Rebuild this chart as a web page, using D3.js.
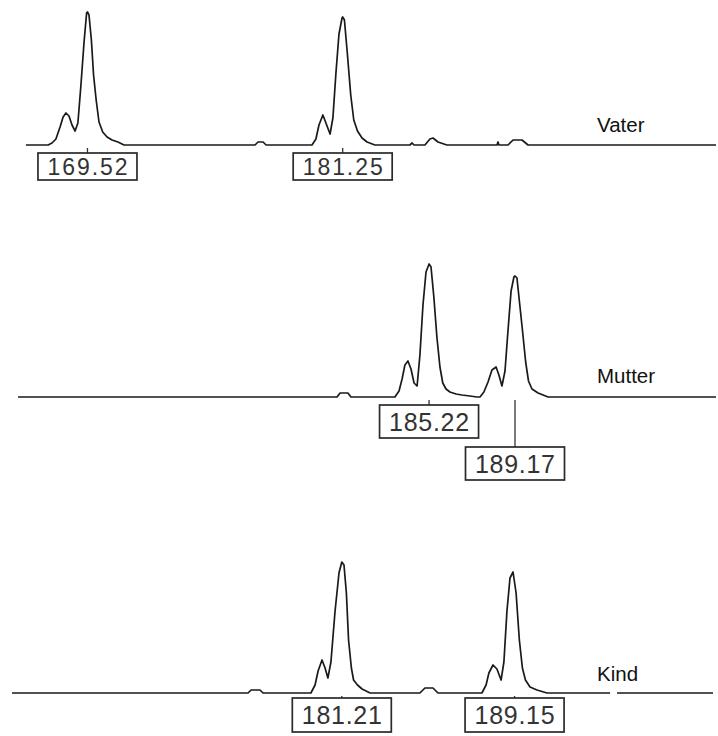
<!DOCTYPE html>
<html><head><meta charset="utf-8">
<script src="https://cdn.jsdelivr.net/npm/d3@7/dist/d3.min.js"></script>
<style>html,body{margin:0;padding:0;background:#fff;}svg{display:block;}</style>
</head><body>
<svg id="chart" width="718" height="736"></svg>
<script>
// ---- data (fragment size in bp, signal in RFU) ----
const traceNames = ["Vater", "Mutter", "Kind"];

const vaterSignal = [
  [166.69,0],[167.71,0],[167.89,20],[168.07,60],[168.26,180],[168.40,280],[168.53,320],[168.67,290],
  [168.81,200],[168.95,140],[169.08,220],[169.22,600],[169.36,1020],[169.48,1320],[169.52,1330],[169.59,1300],
  [169.70,1050],[169.80,700],[169.92,450],[170.05,230],[170.22,130],[170.42,80],[170.65,50],[170.92,30],
  [171.20,0],[177.22,0],[177.36,30],[177.59,30],[177.73,0],
  [179.84,0],[180.02,60],[180.16,200],[180.34,300],[180.48,220],[180.67,110],[180.80,270],[180.94,720],
  [181.08,1110],[181.22,1270],[181.25,1280],[181.33,1250],[181.47,900],[181.62,500],[181.76,250],[181.93,140],
  [182.14,70],[182.37,30],[182.73,0],[184.34,0],[184.44,20],[184.53,0],
  [185.03,0],[185.26,60],[185.40,70],[185.63,30],[186.04,0],
  [188.34,0],[188.39,30],[188.43,0],[188.85,0],[189.08,50],[189.49,50],[189.77,0],[198.41,0]
];

const mutterSignal = [
  [166.33,0],[180.99,0],[181.13,40],[181.49,40],[181.63,0],
  [183.65,0],[183.84,60],[183.98,180],[184.11,320],[184.25,360],[184.39,280],[184.53,140],[184.67,110],
  [184.80,420],[184.94,920],[185.08,1250],[185.22,1330],[185.31,1300],[185.44,1000],[185.58,600],[185.72,300],
  [185.85,140],[186.00,80],[186.18,50],[186.46,30],[186.73,20],[187.10,10],[187.42,0],
  [187.56,0],[187.74,50],[187.93,150],[188.11,270],[188.30,300],[188.43,220],[188.57,110],[188.71,260],
  [188.85,670],[188.99,1060],[189.12,1200],[189.17,1210],[189.26,1190],[189.40,900],[189.53,630],[189.66,350],
  [189.79,160],[189.95,80],[190.23,40],[190.46,20],[190.69,0],[198.41,0]
];

const kindSignal = [
  [166.05,0],[176.90,0],[177.04,30],[177.45,30],[177.59,0],
  [179.79,0],[179.98,80],[180.12,220],[180.30,330],[180.44,250],[180.57,150],[180.71,310],[180.90,820],
  [181.08,1200],[181.21,1310],[181.31,1280],[181.42,1000],[181.52,530],[181.65,250],[181.75,130],[181.93,80],
  [182.14,40],[182.51,0],[184.80,0],[185.03,50],[185.40,50],[185.63,0],
  [187.65,0],[187.84,80],[187.97,200],[188.16,280],[188.34,240],[188.53,130],[188.66,310],[188.80,820],
  [188.94,1150],[189.08,1210],[189.22,1000],[189.37,530],[189.51,250],[189.65,130],[189.86,60],[190.18,30],
  [190.64,0],[193.54,0],[193.60,null],[193.86,0],[198.27,0]
];

const vaterPeaks = [169.52, 181.25];
const mutterPeaks = [185.22, 189.17];
const kindPeaks = [181.21, 189.15];

// ---- layout ----
const svg = d3.select("#chart");
const W = 718;
const x = d3.scaleLinear().domain([165.5, 198.5]).range([0, W]);

const panels = [
  {name: traceNames[0], signal: vaterSignal, peaks: vaterPeaks, base: 145, labelRows: [0, 0], boxTop: 153, boxH: 27, font: 23},
  {name: traceNames[1], signal: mutterSignal, peaks: mutterPeaks, base: 397, labelRows: [0, 1], boxTop: 405, boxH: 33, font: 25},
  {name: traceNames[2], signal: kindSignal, peaks: kindPeaks, base: 693, labelRows: [0, 0], boxTop: 698, boxH: 34, font: 25}
];
const nameBaselines = [132, 383, 681];

panels.forEach((p, i) => {
  const y = d3.scaleLinear().domain([0, 1400]).range([p.base, p.base - 140]);
  const g = svg.append("g");

  const line = d3.line()
    .defined(d => d[1] !== null)
    .x(d => x(d[0]))
    .y(d => y(d[1]));

  g.append("path")
    .datum(p.signal)
    .attr("d", line)
    .attr("fill", "none")
    .attr("stroke", "#1a1a1a")
    .attr("stroke-width", 1.7)
    .attr("stroke-linejoin", "round");

  g.append("text")
    .attr("x", 597)
    .attr("y", nameBaselines[i])
    .attr("font-family", "Liberation Sans, Arial, sans-serif")
    .attr("font-size", 20.5)
    .attr("fill", "#111")
    .text(p.name);

  p.peaks.forEach((pk, j) => {
    const cx = x(pk);
    const top = p.boxTop + p.labelRows[j] * 42;
    const bw = 99;
    g.append("line")
      .attr("x1", cx).attr("x2", cx)
      .attr("y1", p.base + 3).attr("y2", top)
      .attr("stroke", "#333").attr("stroke-width", 1.3);
    g.append("rect")
      .attr("x", cx - bw / 2).attr("y", top)
      .attr("width", bw).attr("height", p.boxH)
      .attr("fill", "#fff")
      .attr("stroke", "#2a2a2a").attr("stroke-width", 1.7);
    g.append("text")
      .attr("x", cx).attr("y", top + p.boxH / 2)
      .attr("dy", "0.36em")
      .attr("text-anchor", "middle")
      .attr("font-family", "Liberation Sans, Arial, sans-serif")
      .attr("font-size", p.font)
      .attr("textLength", 80)
      .attr("lengthAdjust", "spacing")
      .attr("fill", "#333")
      .text(pk.toFixed(2));
  });
});
</script>
</body></html>
